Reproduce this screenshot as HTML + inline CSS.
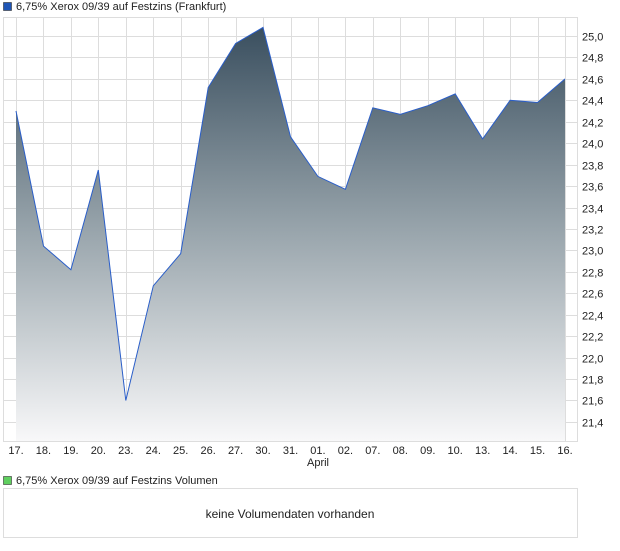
<!DOCTYPE html>
<html><head><meta charset="utf-8"><style>
body{margin:0;background:#fff;width:620px;height:546px;overflow:hidden;font-family:"Liberation Sans",sans-serif;}
</style></head><body>
<svg width="620" height="546" xmlns="http://www.w3.org/2000/svg" font-family="Liberation Sans, sans-serif" font-size="11" fill="#222">
<defs><linearGradient id="g" x1="0" y1="0" x2="0" y2="1" gradientUnits="objectBoundingBox">
<stop offset="0" stop-color="#3a4f5f"/><stop offset="0.5" stop-color="#9aa6ad"/><stop offset="1" stop-color="#f8f8f9"/></linearGradient></defs>
<rect x="3.5" y="2.5" width="8" height="8" fill="#1f55b5" stroke="#333" stroke-width="0.6"/>
<text x="16" y="10">6,75% Xerox 09/39 auf Festzins (Frankfurt)</text>
<rect x="3.5" y="17.5" width="574" height="424" fill="#fff" stroke="#ddd"/>
<g stroke="#ddd" stroke-width="1" id="grid"></g>
<g id="yl"></g>
<path id="area" fill="url(#g)" stroke="none"/>
<polyline id="line" fill="none" stroke="#2a5ec9" stroke-width="1"/>
<g id="xl"></g>
<text x="318" y="466" text-anchor="middle">April</text>
<rect x="3.5" y="476.5" width="8" height="8" fill="#5fcf5f" stroke="#333" stroke-width="0.6"/>
<text x="16" y="484">6,75% Xerox 09/39 auf Festzins Volumen</text>
<rect x="3.5" y="488.5" width="574" height="49" fill="#fff" stroke="#ddd"/>
<text x="290" y="518" text-anchor="middle" font-size="12">keine Volumendaten vorhanden</text>
</svg>
<script>
var ns="http://www.w3.org/2000/svg";
function el(t,a,p,txt){var e=document.createElementNS(ns,t);for(var k in a)e.setAttribute(k,a[k]);if(txt)e.textContent=txt;document.getElementById(p).appendChild(e);}
var labels=["17.","18.","19.","20.","23.","24.","25.","26.","27.","30.","31.","01.","02.","07.","08.","09.","10.","13.","14.","15.","16."];
var vals=[24.3,23.04,22.82,23.75,21.6,22.67,22.97,24.52,24.93,25.08,24.06,23.69,23.57,24.33,24.27,24.35,24.46,24.04,24.4,24.38,24.6];
function X(i){return 16+i*27.45;}
function Y(v){return 36+(25-v)/0.2*21.44;}
for(var i=0;i<21;i++){var x=Math.round(X(i))+0.5;el("line",{x1:x,y1:18,x2:x,y2:441},"grid");el("text",{x:X(i),y:454,"text-anchor":"middle"},"xl",labels[i]);}
for(var k=0;k<=18;k++){var v=25-k*0.2,y=Math.round(Y(v))+0.5;el("line",{x1:4,y1:y,x2:578,y2:y},"grid");el("text",{x:582,y:y+4},"yl",v.toFixed(1).replace(".",","));}
var pts=vals.map(function(v,i){return X(i).toFixed(1)+","+Y(v).toFixed(1);});
document.getElementById("line").setAttribute("points",pts.join(" "));
document.getElementById("area").setAttribute("d","M16,441 L"+pts.join(" L")+" L"+X(20)+",441 Z");
</script>
</body></html>
